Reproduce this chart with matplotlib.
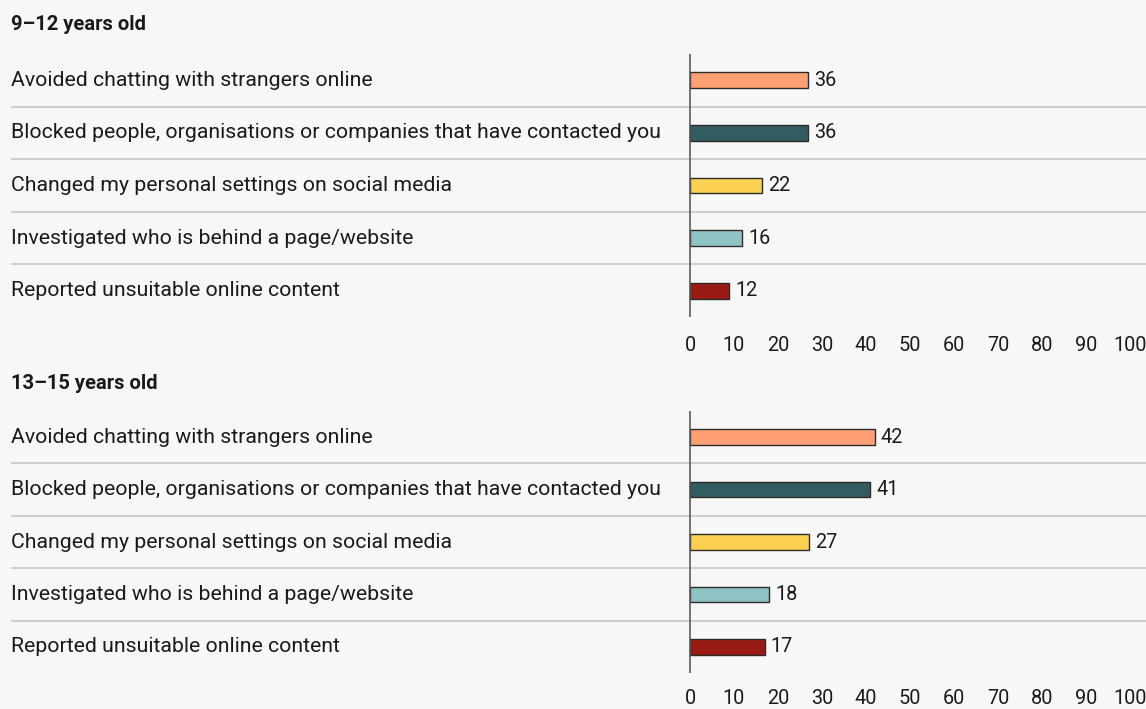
import matplotlib
matplotlib.use('Agg')
import matplotlib.pyplot as plt
import matplotlib.transforms as mtransforms
import numpy as np

plt.rcParams['font.family'] = ['Roboto', 'DejaVu Sans']

categories = ['Avoided chatting with strangers online',
              'Blocked people, organisations or companies that have contacted you',
              'Changed my personal settings on social media',
              'Investigated who is behind a page/website',
              'Reported unsuitable online content']
groups = ['9\u201312 years old', '13\u201315 years old']
values_9_12 = [36, 36, 22, 16, 12]
values_13_15 = [42, 41, 27, 18, 17]
tick_values = list(range(0, 101, 10))
colors = ['#FF9F74', '#335C62', '#FCD152', '#8FC4C6', '#9A1B14']

bg = '#F8F7F8'
fig = plt.figure(figsize=(11.46, 7.09), dpi=100, facecolor=bg)

W, H = 1146., 709.
x0, x1 = 11., 1146.
zero_px = 690.
# px per unit: top panel bars are drawn on a compressed scale in the original
scales = [3.28, 4.4]
# top px, bottom px, title px, tick pad
panels = [(54., 317., 25., 14), (411., 673., 383., 11.5)]
fs = 15.3

for p, (vals, scale, (top, bot, title_y, pad)) in enumerate(zip([values_9_12, values_13_15], scales, panels)):
	ax = fig.add_axes([x0 / W, 1 - bot / H, (x1 - x0) / W, (bot - top) / H])
	ax.set_facecolor('none')
	ax.set_xlim((x0 - zero_px) / scale, (x1 - zero_px) / scale)
	ax.set_ylim(len(categories) - 0.5, -0.5)
	for s in ax.spines.values():
		s.set_visible(False)
	ax.set_yticks([])
	ax.set_xticks([])

	y = np.arange(len(categories))
	ax.barh(y, vals, height=0.3, color=colors, edgecolor='#2b2b2b', linewidth=1, zorder=3)
	for yi, v in zip(y, vals):
		ax.text(v + 6 / scale, yi, str(v), va='center', ha='left', fontsize=14.3, color='#1a1a1a')

	trans = mtransforms.blended_transform_factory(ax.transAxes, ax.transData)
	for yi, c in zip(y, categories):
		ax.text(0, yi, c, transform=trans, va='center', ha='left', fontsize=fs, color='#1a1a1a')
	for yi in y[:-1]:
		ax.axhline(yi + 0.5, color='#CFCDCF', linewidth=1.5, zorder=1)
	ax.axvline(0, color='#5a5a5a', linewidth=1.2, zorder=4)

	k = 4.4 / scale
	sec = ax.secondary_xaxis('bottom', functions=(lambda x, k=k: x / k, lambda x, k=k: x * k))
	sec.set_xticks(tick_values)
	sec.tick_params(length=0, pad=pad, labelsize=14.3, colors='#1a1a1a')
	sec.spines['bottom'].set_visible(False)

	fig.text(x0 / W, 1 - title_y / H, groups[p], fontsize=14.5, fontweight='bold', va='center', ha='left', color='#1a1a1a')

fig.savefig('out.png', dpi=100, facecolor=bg)
